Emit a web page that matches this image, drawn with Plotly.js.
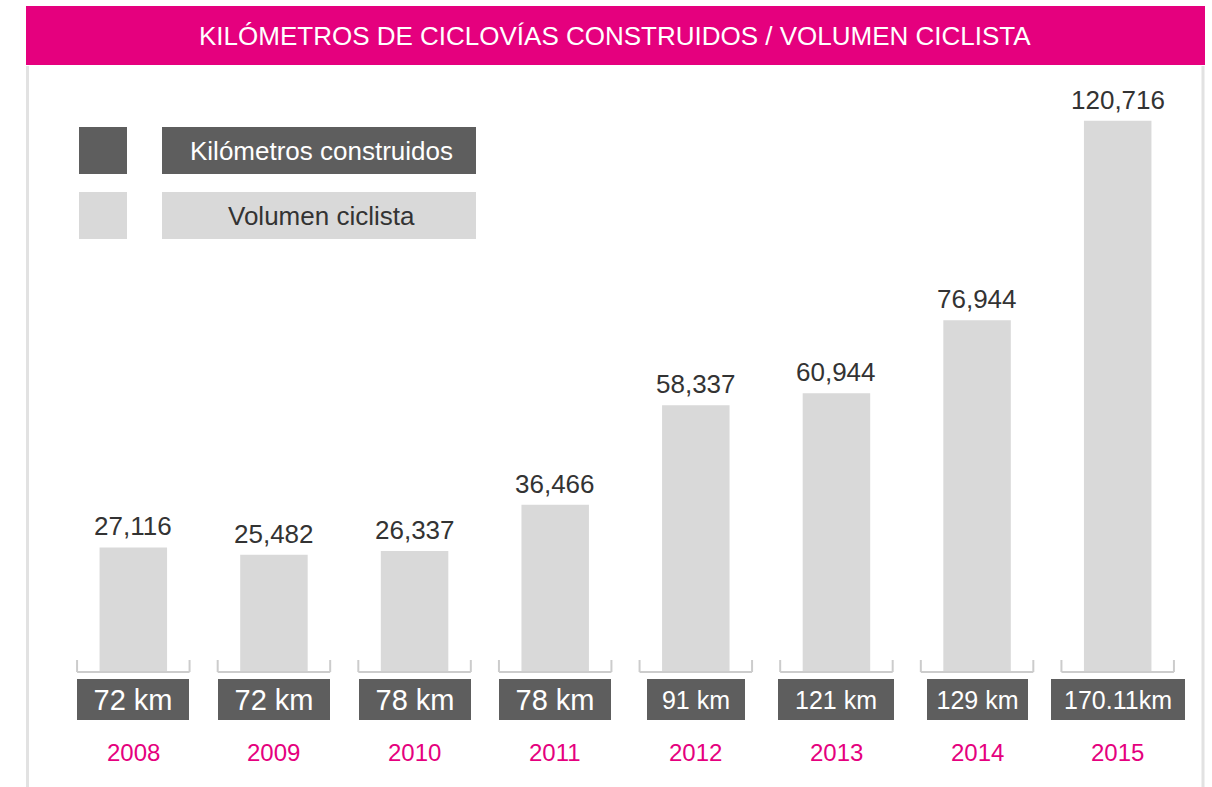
<!DOCTYPE html>
<html>
<head>
<meta charset="utf-8">
<script src="https://cdn.plot.ly/plotly-3.0.1.min.js"></script>
<style>html,body{margin:0;padding:0;background:#fff;}#chart{width:1212px;height:787px;}</style>
</head>
<body>
<div id="chart"></div>
<script>
// ---- data ----
const years = ['2008','2009','2010','2011','2012','2013','2014','2015'];
const volumenCiclista = [27116, 25482, 26337, 36466, 58337, 60944, 76944, 120716];
const kmLabels = ['72 km','72 km','78 km','78 km','91 km','121 km','129 km','170.11km'];
const chartTitle = 'KILÓMETROS DE CICLOVÍAS CONSTRUIDOS / VOLUMEN CICLISTA';
const legendLabels = ['Kilómetros construidos', 'Volumen ciclista'];

// ---- styles ----
const PINK = '#E5007E', DARK = '#5E5E5E', LIGHT = '#D9D9D9', TXT = '#333333', BRACKET = '#CCCCCC';
const FONT = 'Liberation Sans, Arial, Helvetica, sans-serif';
const W = 1212, H = 787, ML = 63, MR = 24, MT = 74, MB = 116;
const PW = W - ML - MR, PH = H - MT - MB;
const kmBoxWidths = [112, 112, 112, 112, 98, 116, 101, 134];
const kmFontSizes = [29, 29, 29, 29, 25, 25, 25, 25];
const px = x => (x - ML) / PW;
const py = y => (H - MB - y) / PH;

const shapes = [];
const annotations = [];

// title band
shapes.push({type:'rect', xref:'paper', yref:'paper', x0:px(26), x1:px(1205), y0:py(65), y1:py(6),
  fillcolor:PINK, line:{width:0}, layer:'below'});
annotations.push({xref:'paper', yref:'paper', x:px(615), y:py(36), text:chartTitle, showarrow:false,
  xanchor:'center', yanchor:'middle', font:{family:FONT, size:26, color:'#FFFFFF'}});
// card borders
shapes.push({type:'line', xref:'paper', yref:'paper', x0:px(27.5), x1:px(27.5), y0:py(66), y1:py(787),
  line:{color:'#E2E2E2', width:3}});
shapes.push({type:'line', xref:'paper', yref:'paper', x0:px(1203), x1:px(1203), y0:py(66), y1:py(787),
  line:{color:'#E2E2E2', width:3}});

// legend
const legRows = [{y0:127, y1:174, fill:DARK, color:'#FFFFFF'}, {y0:192, y1:239, fill:LIGHT, color:TXT}];
legRows.forEach((r, i) => {
  shapes.push({type:'rect', xref:'paper', yref:'paper', x0:px(79), x1:px(127), y0:py(r.y1), y1:py(r.y0),
    fillcolor:r.fill, line:{width:0}});
  shapes.push({type:'rect', xref:'paper', yref:'paper', x0:px(162), x1:px(476), y0:py(r.y1), y1:py(r.y0),
    fillcolor:r.fill, line:{width:0}});
  annotations.push({xref:'paper', yref:'paper', x:px(321), y:py((r.y0 + r.y1) / 2), text:legendLabels[i],
    showarrow:false, xanchor:'center', yanchor:'middle', font:{family:FONT, size:26, color:r.color}});
});

const bTop = 11 / PH, bBot = -1 / PH;
years.forEach((yr, i) => {
  // bracket under each bar (category index coordinates)
  const common = {xref:'x', yref:'paper', line:{color:BRACKET, width:2}};
  shapes.push(Object.assign({type:'line', x0:i - 0.4, x1:i + 0.4, y0:bBot, y1:bBot}, common));
  shapes.push(Object.assign({type:'line', x0:i - 0.4, x1:i - 0.4, y0:bBot, y1:bTop}, common));
  shapes.push(Object.assign({type:'line', x0:i + 0.4, x1:i + 0.4, y0:bBot, y1:bTop}, common));
  // km box
  annotations.push({xref:'x', yref:'paper', x:i, y:0, yshift:-28.5, text:kmLabels[i], showarrow:false,
    xanchor:'center', yanchor:'middle', width:kmBoxWidths[i], height:41, bgcolor:DARK,
    borderpad:0, borderwidth:0, font:{family:FONT, size:kmFontSizes[i], color:'#FFFFFF'}});
  // year label
  annotations.push({xref:'x', yref:'paper', x:i, y:0, yshift:-81, text:yr, showarrow:false,
    xanchor:'center', yanchor:'middle', font:{family:FONT, size:24, color:PINK}});
  // value label
  annotations.push({xref:'x', yref:'y', x:i, y:volumenCiclista[i], yshift:4,
    text:volumenCiclista[i].toLocaleString('en-US'), showarrow:false,
    xanchor:'center', yanchor:'bottom', font:{family:FONT, size:26, color:TXT}});
});

const traces = [{
  type:'bar', x:years, y:volumenCiclista, name:legendLabels[1],
  marker:{color:LIGHT, line:{width:0}}, hoverinfo:'none', showlegend:false
}];

const layout = {
  width:W, height:H,
  margin:{l:ML, r:MR, t:MT, b:MB, pad:0},
  paper_bgcolor:'#FFFFFF', plot_bgcolor:'#FFFFFF',
  showlegend:false, bargap:0.52,
  xaxis:{type:'category', categoryorder:'array', categoryarray:years, range:[-0.5, years.length - 0.5], autorange:false,
    showticklabels:false, showgrid:false, zeroline:false, showline:false, ticks:''},
  yaxis:{range:[0, 131000], autorange:false, visible:false, showgrid:false, zeroline:false},
  shapes:shapes, annotations:annotations,
  font:{family:FONT}
};

Plotly.newPlot('chart', traces, layout, {displayModeBar:false, staticPlot:true});
</script>
</body>
</html>
